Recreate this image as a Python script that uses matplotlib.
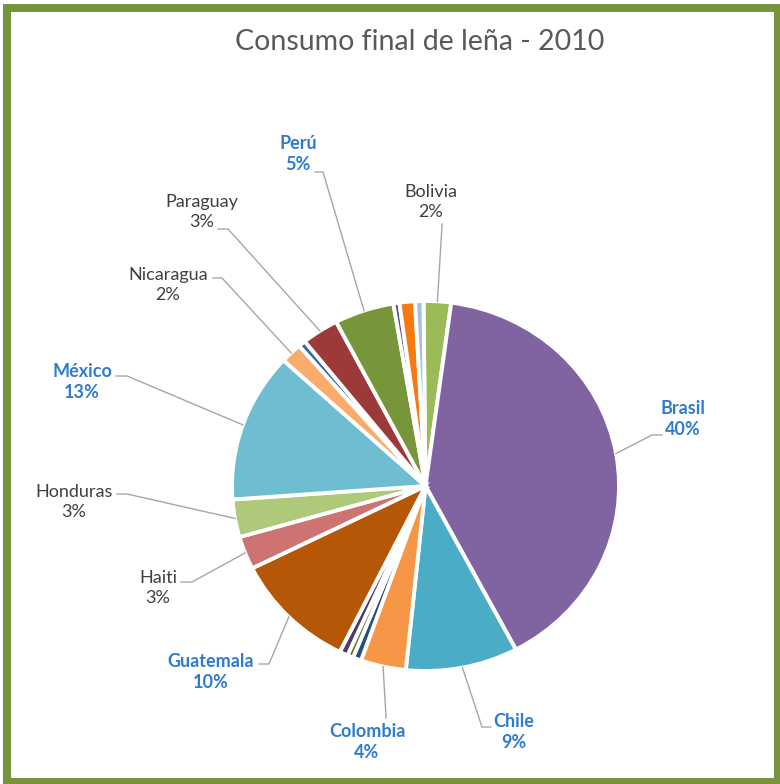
import numpy as np
import matplotlib.pyplot as plt
from matplotlib.patches import Rectangle
from matplotlib.transforms import Affine2D

plt.rcParams['font.family'] = ['Lato', 'DejaVu Sans']

W, H = 780, 784

# Consumo final de leña 2010 (%), en el orden de la torta (horario desde arriba)
paises = ['Bolivia', 'Brasil', 'Chile', 'Colombia', 'Costa Rica', 'Ecuador',
          'El Salvador', 'Guatemala', 'Haiti', 'Honduras', 'México', 'Nicaragua',
          'Panamá', 'Paraguay', 'Perú', 'Rep. Dominicana', 'Uruguay', 'Venezuela']
valores = [2.3, 40.3, 9.4, 3.8, 0.7, 0.5,
           0.7, 10.4, 2.9, 3.3, 13.1, 1.8,
           0.6, 3.1, 5.0, 0.5, 1.3, 0.7]
colores = ['#9BBB59', '#8064A2', '#4BACC6', '#F79646', '#2C4D75', '#5F7530',
           '#4D3B62', '#B65708', '#CD7371', '#AFC97A', '#6FBDD1', '#F9AB6B',
           '#3465A4', '#9B3A38', '#77963C', '#5F4B8B', '#F57A12', '#A5C0E5']
explode = [0.012] * len(valores)
explode[1] = 0.022
explode[2] = 0.018

AZUL = '#2F7BCF'
GRIS = '#404040'
# etiqueta: (centro del texto, punta junto al texto, codo), color, negrita
etiquetas = {
    'Perú':      ((298, 154), (315, 172), (323, 172), AZUL, True),
    'Bolivia':   ((431, 202), (442, 224), (442, 226), GRIS, False),
    'Paraguay':  ((202, 212), (218, 229), (228, 229), GRIS, False),
    'Nicaragua': ((168, 285), (213, 278), (222, 278), GRIS, False),
    'México':    ((82, 382), (116, 376), (127, 376), AZUL, True),
    'Honduras':  ((74, 502), (117, 494), (127, 494), GRIS, False),
    'Haiti':     ((158, 588), (181, 582), (192, 582), GRIS, False),
    'Guatemala': ((211, 672), (259, 664), (269, 664), AZUL, True),
    'Colombia':  ((367, 742), (386, 718), (386, 716), AZUL, True),
    'Chile':     ((514, 732), (491, 727), (482, 727), AZUL, True),
    'Brasil':    ((683, 419), (662, 435), (652, 435), AZUL, True),
}


def px(x, y):
    return x, H - y


fig = plt.figure(figsize=(W / 100, H / 100), dpi=100)
ax = fig.add_axes([0, 0, 1, 1])
ax.axis('off')

centro = px(425.5, 486)
radio = 185
estirar = 1.046  # la torta es algo más ancha que alta

wedges, _ = ax.pie(valores, colors=colores, explode=explode, startangle=90.6,
                   counterclock=False, center=centro, radius=radio,
                   wedgeprops=dict(edgecolor='white', linewidth=2.8))
ax.set_xlim(0, W)
ax.set_ylim(0, H)
ax.set_aspect('auto')

ancho = Affine2D().translate(-centro[0], -centro[1]).scale(estirar, 1) \
    .translate(centro[0], centro[1])
for w in wedges:
    w.set_transform(ancho + ax.transData)

total = sum(valores)
for w, pais, v in zip(wedges, paises, valores):
    if pais not in etiquetas:
        continue
    (tx, ty), punta, codo, color, negrita = etiquetas[pais]
    ang = np.deg2rad((w.theta1 + w.theta2) / 2)
    cx, cy = w.center
    borde = ancho.transform((cx + w.r * np.cos(ang), cy + w.r * np.sin(ang)))
    xs = [borde[0], px(*codo)[0], px(*punta)[0]]
    ys = [borde[1], px(*codo)[1], px(*punta)[1]]
    ax.plot(xs, ys, color='#A6A6A6', lw=1.0, solid_joinstyle='miter')
    ax.text(*px(tx, ty), f'{pais}\n{v / total * 100:.0f}%', ha='center', va='center',
            fontsize=13, color=color, fontweight='bold' if negrita else 'normal',
            linespacing=1.35)

ax.text(*px(420, 42), 'Consumo final de leña - 2010', ha='center', va='center',
        fontsize=20.5, color='#595959')

# marco verde alrededor del gráfico
ax.add_patch(Rectangle(px(7, 782), 771, 774, fill=False, edgecolor='#77933C',
                       linewidth=5.8, clip_on=False))

fig.savefig('out.png', dpi=100)
